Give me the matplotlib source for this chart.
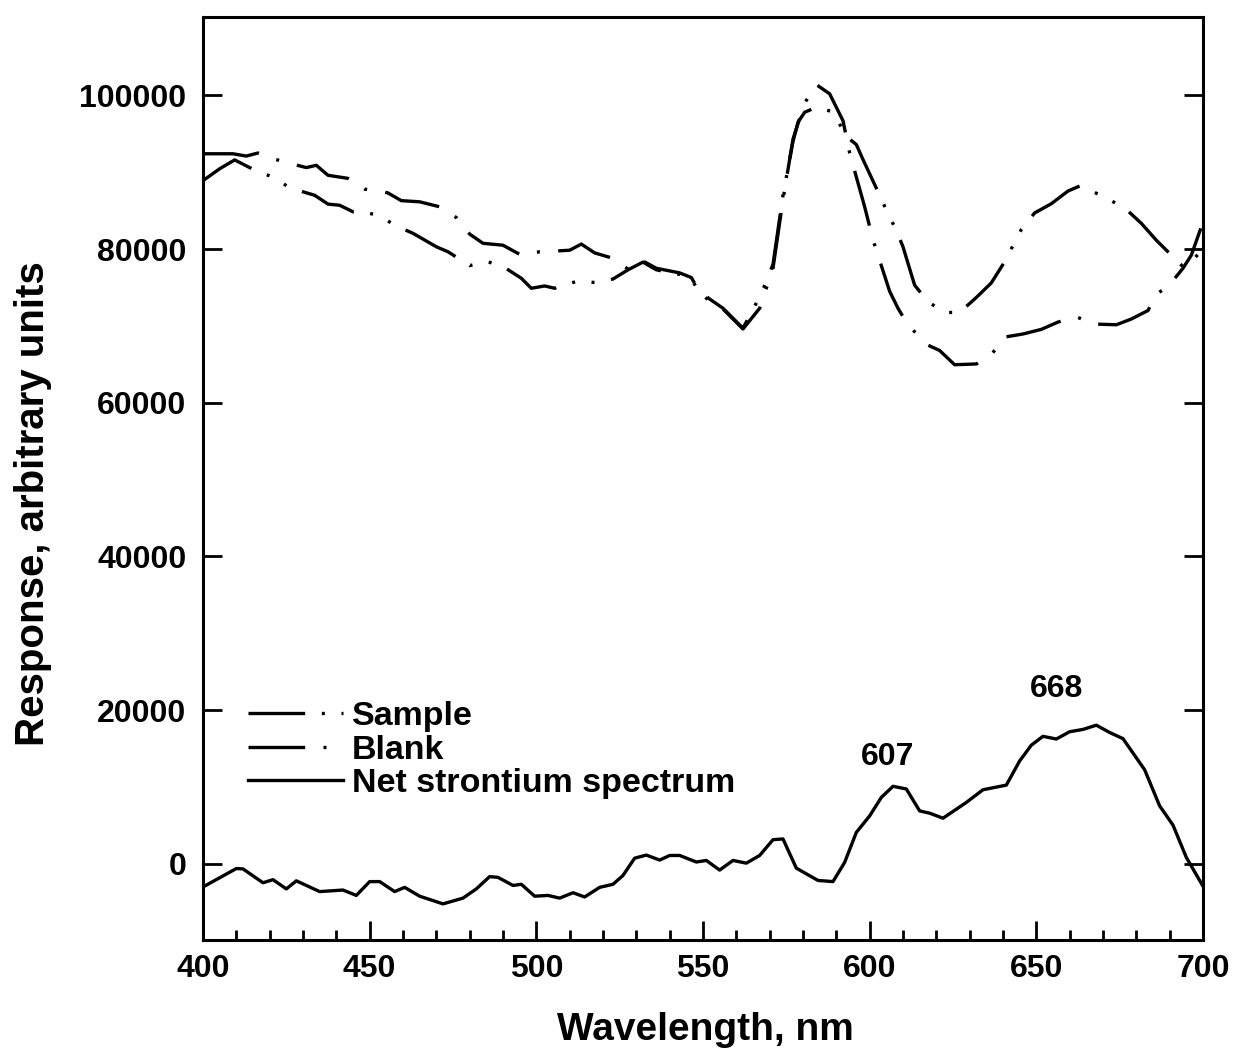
import matplotlib
matplotlib.use('Agg')
import matplotlib.pyplot as plt
from matplotlib.ticker import MultipleLocator, NullLocator

# ---------------- data ----------------
sample_w = [400, 405, 409.5, 416.5, 421.5, 425.5, 430, 433.5, 437.5, 441, 445, 447.5,
            453, 458, 463, 470, 473.5, 480, 485.5, 490.5, 495.5, 498.5, 502.5, 505.5,
            512.5, 517.5, 523, 527.5, 532, 536, 543, 546.5, 548.5, 552, 556, 562,
            567.5, 571, 574, 577, 578.5, 580.5, 584, 589, 593, 596, 598, 603, 605.5,
            608, 610, 611.5, 613.5, 617.5, 622.5, 627, 632, 636.5, 640.5, 645.5,
            649.5, 654.5, 659.5, 663, 670.5, 677, 681.5, 686, 691, 694, 697, 700]
sample_v = [88900, 90450, 91600, 90050, 89300, 88100, 87450, 87000, 85850, 85700, 84850, 84950,
            84300, 83000, 82050, 80300, 79650, 77850, 78350, 77600, 76200, 74900, 75200, 74900,
            75850, 75650, 76100, 77300, 78300, 77300, 76700, 76100, 74700, 73500, 72300, 69700,
            74200, 78000, 87000, 94000, 96500, 97800, 98450, 97850, 94650, 93600, 91650, 87000, 84600,
            82450, 80300, 78150, 75300, 73150, 71750, 71750, 73700, 75600, 78350, 82550,
            84700, 85900, 87550, 88200, 86800, 85150, 83350, 81150, 79000, 77700, 78600, 80000]

blank_w = [400, 409, 413, 416.5, 421.5, 426.5, 431, 434, 437.5, 443.5, 448.5, 454, 455.5,
           459.5, 465, 471, 476, 480, 484, 490, 495.5, 501, 506, 510, 513.5, 517.5, 523,
           527.5, 532, 536, 543, 546.5, 548.5, 552.5, 556, 562, 567, 571, 574, 577, 580.5,
           584, 588, 592, 594, 598.5, 601, 606, 608.5, 611.5, 617.5, 621, 625.5, 632,
           636.5, 640.5, 646, 651.5, 656.5, 662, 667, 674, 678.5, 683.5, 686, 689.5, 694,
           696.5, 700]
blank_v = [92400, 92400, 92100, 92500, 91700, 91100, 90600, 90900, 89600, 89200, 87800, 87450, 87300,
           86300, 86150, 85500, 84100, 81950, 80750, 80500, 79200, 79650, 79750, 79850, 80650, 79500, 78800,
           77400, 78450, 77500, 76900, 76300, 74800, 72900, 72200, 69600, 72300, 77500, 86400, 94300, 99000,
           101400, 100200, 96700, 92500, 85500, 81200, 74500, 72300, 70100, 67500, 66800, 64950, 65050,
           66250, 68550, 68950, 69550, 70500, 71200, 70250, 70150, 70900, 72000, 74150, 75100, 77500,
           79200, 83500]

net_w = [400, 410, 412, 418, 421, 425, 428, 435, 442, 446, 450, 453, 457.5, 460.5, 465, 472,
         478, 482, 486, 488.5, 493, 495.5, 499.5, 503.5, 507, 511, 514.5, 519, 523, 526,
         529.5, 533, 537, 540, 543, 548, 551, 555, 559, 563, 567, 571, 574, 578, 584.5,
         589, 592.5, 596, 600, 603.5, 607, 611, 615, 618, 622, 629, 634, 641, 645, 648.5,
         652, 656, 660, 664, 668, 672, 676, 682.5, 687, 691, 695, 700]
net_v = [-3000, -600, -650, -2450, -2050, -3250, -2200, -3600, -3400, -4100, -2300, -2300, -3600,
         -3050, -4200, -5200, -4450, -3250, -1650, -1750, -2800, -2650, -4200, -4100, -4450, -3750,
         -4300, -3050, -2650, -1500, 750, 1150, 500, 1100, 1100, 250, 450, -800, 450, 100, 1100,
         3150, 3250, -550, -2150, -2300, 200, 4100, 6250, 8650, 10100, 9750, 6900, 6600, 5950,
         8000, 9650, 10250, 13400, 15450, 16600, 16250, 17200, 17500, 18050, 17100, 16300, 12250,
         7550, 5050, 850, -2900]

series_labels = ['Sample', 'Blank', 'Net strontium spectrum']
peak_labels = ['607', '668']
peak_label_w = [605.5, 656.2]
peak_label_v = [13900, 22700]

x_ticks = [400, 450, 500, 550, 600, 650, 700]
y_ticks = [0, 20000, 40000, 60000, 80000, 100000]
y_ticklabels = ['0', '20000', '40000', '60000', '80000', '100000']

# ---------------- figure ----------------
plt.rcParams['font.family'] = ['Liberation Sans', 'DejaVu Sans']
plt.rcParams['font.weight'] = 'bold'

fig = plt.figure(figsize=(12.37, 10.60), dpi=100)
ax = fig.add_axes([0.1641, 0.1132, 0.8084, 0.8708])

lw = 2.4
ax.plot(sample_w, sample_v, color='black', lw=lw,
        linestyle=(0, (17, 5, 0.9, 5, 0.9, 5)), label=series_labels[0])
ax.plot(blank_w, blank_v, color='black', lw=lw,
        linestyle=(0, (17, 5.5, 0.9, 5.5)), label=series_labels[1])
ax.plot(net_w, net_v, color='black', lw=lw, linestyle='-', label=series_labels[2])

for t, xw, yv in zip(peak_labels, peak_label_w, peak_label_v):
    ax.text(xw, yv, t, ha='center', va='center', fontsize=23, fontweight='bold')

ax.set_xlim(400, 700)
ax.set_ylim(-9900, 110200)
ax.set_xticks(x_ticks)
ax.xaxis.set_minor_locator(MultipleLocator(10))
ax.set_yticks(y_ticks)
ax.set_yticklabels(y_ticklabels)
ax.yaxis.set_minor_locator(NullLocator())

ax.tick_params(which='both', direction='in', right=True, top=False, labelsize=23, width=2)
ax.tick_params(which='major', length=14)
ax.tick_params(which='minor', length=7)
ax.tick_params(axis='y', pad=12)
ax.tick_params(axis='x', pad=10)
for lab in ax.get_xticklabels() + ax.get_yticklabels():
    lab.set_fontweight('bold')

for sp in ax.spines.values():
    sp.set_linewidth(2.2)

ax.set_xlabel('Wavelength, nm', fontsize=28, fontweight='bold')
ax.set_ylabel('Response, arbitrary units', fontsize=29, fontweight='bold')
ax.xaxis.set_label_coords(0.502, -0.078)
ax.yaxis.set_label_coords(-0.151, 0.473)

leg = ax.legend(loc='upper left', bbox_to_anchor=(0.045, 0.259), frameon=False,
                fontsize=24.5, handlelength=2.8, handletextpad=0.25,
                labelspacing=0.08, borderpad=0, borderaxespad=0)
for txt in leg.get_texts():
    txt.set_fontweight('bold')

fig.savefig('out.png', dpi=100, facecolor='white')
